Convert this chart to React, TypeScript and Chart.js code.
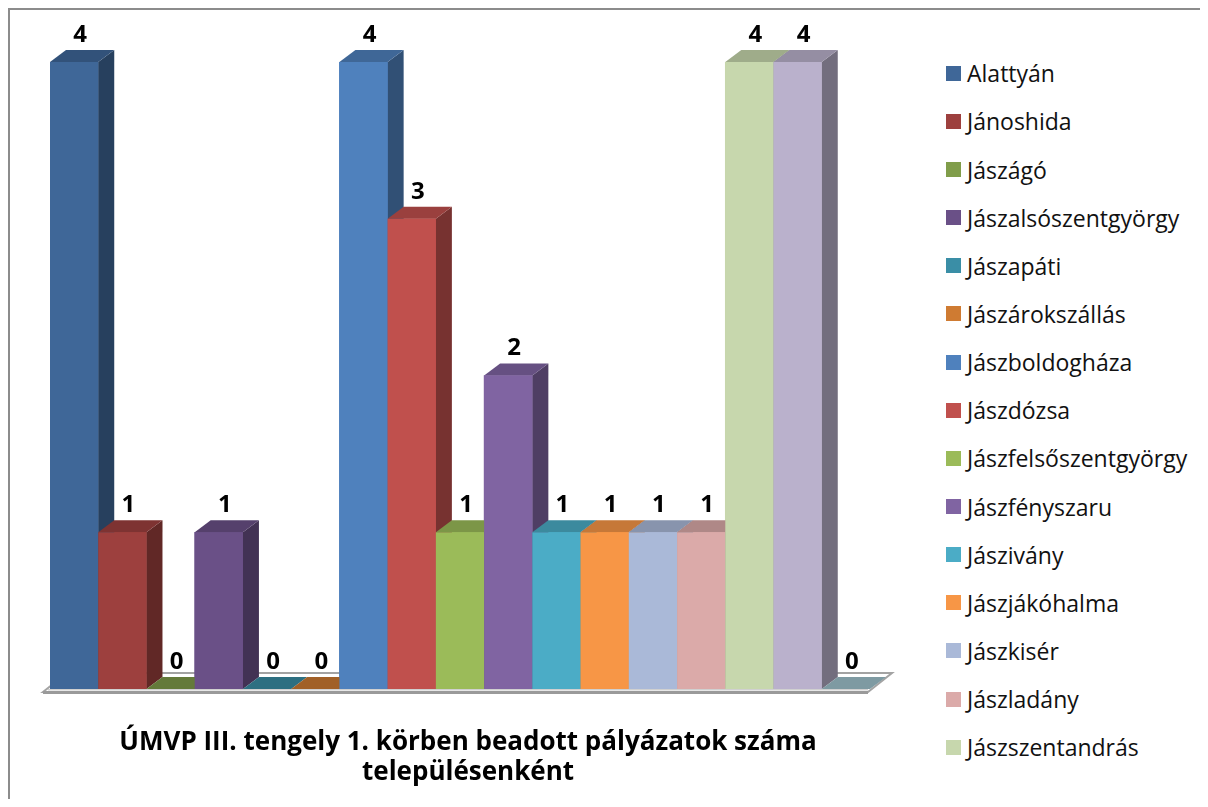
import React, { useEffect, useRef } from "react";
import { Chart, registerables } from "chart.js";

Chart.register(...registerables);

// ---- data ----
const settlements: string[] = [
  "Alattyán",
  "Jánoshida",
  "Jászágó",
  "Jászalsószentgyörgy",
  "Jászapáti",
  "Jászárokszállás",
  "Jászboldogháza",
  "Jászdózsa",
  "Jászfelsőszentgyörgy",
  "Jászfényszaru",
  "Jászivány",
  "Jászjákóhalma",
  "Jászkisér",
  "Jászladány",
  "Jászszentandrás",
  "Jásztelek",
  "Pusztamonostor",
];
const applications: number[] = [4, 1, 0, 1, 0, 0, 4, 3, 1, 2, 1, 1, 1, 1, 4, 4, 0];
const barColors: string[] = [
  "#3f6798",
  "#9d403e",
  "#809d4a",
  "#6a5087",
  "#3a8ea6",
  "#cf7b32",
  "#4f81bd",
  "#c0504d",
  "#9bbb59",
  "#8064a2",
  "#4bacc6",
  "#f79646",
  "#aab9d8",
  "#dbaaa9",
  "#c7d7ad",
  "#bab1cc",
  "#a2c6d0",
];
const legendVisibleCount = 15;
const titleLines: string[] = [
  "ÚMVP III. tengely 1. körben beadott pályázatok száma",
  "településenként",
];
const yMin = 0;
const yMax = 4;

// ---- style ----
const FONT = "'Open Sans', Lato, 'DejaVu Sans', sans-serif";
const DX = 16;
const DY = 12;
const CANVAS_W = 910;
const CANVAS_H = 789;

function shade(hex: string, f: number): string {
  const n = parseInt(hex.slice(1), 16);
  const r = Math.round(((n >> 16) & 255) * f);
  const g = Math.round(((n >> 8) & 255) * f);
  const b = Math.round((n & 255) * f);
  return `rgb(${r},${g},${b})`;
}

function poly(ctx: CanvasRenderingContext2D, pts: number[][], fill: string) {
  ctx.beginPath();
  ctx.moveTo(pts[0][0], pts[0][1]);
  for (let i = 1; i < pts.length; i++) ctx.lineTo(pts[i][0], pts[i][1]);
  ctx.closePath();
  ctx.fillStyle = fill;
  ctx.fill();
}

const bar3dPlugin = {
  id: "bar3d",
  beforeDatasetsDraw(chart: any) {
    const ctx: CanvasRenderingContext2D = chart.ctx;
    const area = chart.chartArea;
    const b = chart.scales.y.getPixelForValue(0);
    const L = area.left;
    const R = area.right;
    ctx.save();
    ctx.beginPath();
    ctx.moveTo(L - 7, b + 3);
    ctx.lineTo(R - 2, b + 3);
    ctx.lineTo(R + 22, b - 16);
    ctx.lineTo(L + 17, b - 16);
    ctx.closePath();
    ctx.fillStyle = "#ffffff";
    ctx.fill();
    ctx.strokeStyle = "#a3a3a3";
    ctx.lineWidth = 2;
    ctx.stroke();
    ctx.fillStyle = "#9a9a9a";
    ctx.fillRect(L - 7, b + 2, R - L + 5, 3);
    ctx.fillStyle = "#d0d0d0";
    ctx.fillRect(L - 2, b, R - L, 1.5);
    ctx.restore();
  },
  afterDatasetsDraw(chart: any) {
    const ctx: CanvasRenderingContext2D = chart.ctx;
    const meta = chart.getDatasetMeta(0);
    const values = chart.data.datasets[0].data as number[];
    const colors = chart.data.datasets[0].backgroundColor as string[];
    ctx.save();
    meta.data.forEach((el: any, i: number) => {
      const { x, y, base, width } = el.getProps(["x", "y", "base", "width"], true);
      const l = x - width / 2;
      const r = x + width / 2;
      const c = colors[i];
      if (values[i] > 0) {
        poly(ctx, [[r, y], [r + DX, y - DY], [r + DX, base - DY], [r, base]], shade(c, 0.62));
        poly(ctx, [[l, y], [l + DX, y - DY], [r + DX, y - DY], [r, y]], shade(c, 0.8));
        ctx.fillStyle = c;
        ctx.fillRect(l, y, width, base - y);
      } else {
        poly(ctx, [[l, base], [l + DX, base - DY], [r + DX, base - DY], [r, base]], shade(c, 0.78));
      }
    });
    ctx.font = `bold 24px ${FONT}`;
    ctx.fillStyle = "#000000";
    ctx.textAlign = "center";
    ctx.textBaseline = "middle";
    meta.data.forEach((el: any, i: number) => {
      const { x, y } = el.getProps(["x", "y"], true);
      ctx.fillText(String(values[i]), x + 6, y - 27);
    });
    ctx.restore();
  },
};

export default function App() {
  const canvasRef = useRef<HTMLCanvasElement | null>(null);

  useEffect(() => {
    if (!canvasRef.current) return;
    const chart = new Chart(canvasRef.current, {
      type: "bar",
      data: {
        labels: settlements,
        datasets: [
          {
            data: applications,
            backgroundColor: barColors,
            borderWidth: 0,
            categoryPercentage: 1,
            barPercentage: 1,
          },
        ],
      },
      options: {
        animation: false,
        responsive: false,
        devicePixelRatio: 1,
        layout: { padding: { left: 40, top: 52, right: CANVAS_W - 876, bottom: 0 } },
        scales: {
          x: { display: false, offset: true },
          y: {
            position: "right",
            min: yMin,
            max: yMax,
            ticks: { display: false },
            grid: { display: false },
            border: { display: false },
            afterFit: (s: any) => {
              s.width = 16;
            },
          },
        },
        plugins: {
          legend: { display: false },
          tooltip: { enabled: false },
          title: {
            display: true,
            position: "bottom",
            text: titleLines,
            color: "#000000",
            font: { family: FONT, weight: "bold", size: 26, lineHeight: 30 / 26 },
            padding: { top: 39, bottom: 11 },
          },
        },
      },
      plugins: [bar3dPlugin],
    } as any);
    return () => chart.destroy();
  }, []);

  return (
    <div
      style={{
        position: "relative",
        width: 1192,
        height: 791,
        boxSizing: "border-box",
        borderLeft: "2px solid #8c8c8c",
        borderTop: "2px solid #8c8c8c",
        background: "#ffffff",
        overflow: "hidden",
      }}
    >
      <canvas
        ref={canvasRef}
        width={CANVAS_W}
        height={CANVAS_H}
        style={{ position: "absolute", left: 0, top: 0, width: CANVAS_W, height: CANVAS_H }}
      />
      <div style={{ position: "absolute", left: 936, top: 39.2 }}>
        {settlements.slice(0, legendVisibleCount).map((name, i) => (
          <div key={name} style={{ display: "flex", alignItems: "center", height: 48.15 }}>
            <span
              style={{
                display: "inline-block",
                width: 15,
                height: 15,
                background: barColors[i],
                marginRight: 6,
                flex: "none",
              }}
            />
            <span
              style={{
                fontFamily: FONT,
                fontSize: 23,
                lineHeight: "28px",
                color: "#111111",
                whiteSpace: "nowrap",
              }}
            >
              {name}
            </span>
          </div>
        ))}
      </div>
    </div>
  );
}
